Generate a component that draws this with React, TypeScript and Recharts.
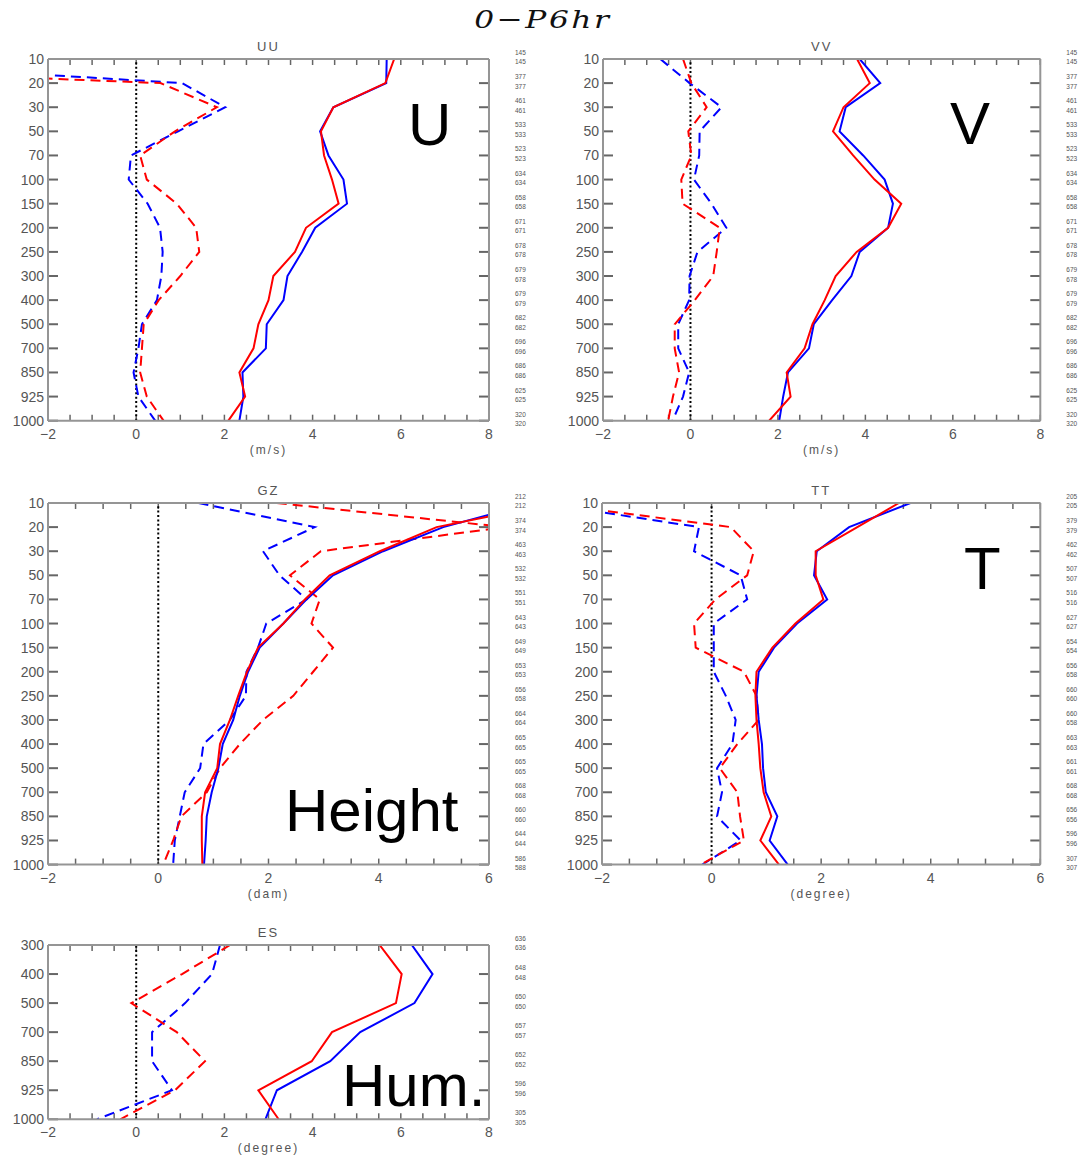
import React from 'react'
import { LineChart, Line, XAxis, YAxis, ReferenceLine } from 'recharts'

// pressure levels (hPa)
const LEVELS = [10, 20, 30, 50, 70, 100, 150, 200, 250, 300, 400, 500, 700, 850, 925, 1000]
const LEVELS_ES = [300, 400, 500, 700, 850, 925, 1000]

// UU (m/s)
const uuBlueSolid = [5.68, 5.67, 4.47, 4.17, 4.36, 4.7, 4.78, 4.06, 3.76, 3.43, 3.34, 2.96, 2.94, 2.41, 2.43, 2.34]
const uuRedSolid = [5.85, 5.65, 4.47, 4.19, 4.26, 4.44, 4.59, 3.85, 3.6, 3.11, 3.0, 2.77, 2.66, 2.34, 2.47, 2.09]
const uuBlueDash = [-8.0, 1.04, 2.02, 0.95, -0.12, -0.17, 0.26, 0.54, 0.6, 0.57, 0.47, 0.13, 0.05, -0.06, 0.05, 0.43]
const uuRedDash = [-13.0, 0.55, 1.83, 0.88, 0.09, 0.24, 0.92, 1.36, 1.43, 1.0, 0.51, 0.17, 0.13, 0.09, 0.24, 0.62]
const uuCountA = [145, 377, 461, 533, 523, 634, 658, 671, 678, 679, 679, 682, 696, 686, 625, 320]
const uuCountB = [145, 377, 461, 533, 523, 634, 658, 671, 678, 678, 679, 682, 696, 686, 625, 320]

// VV (m/s)
const vvBlueSolid = [3.87, 4.34, 3.55, 3.41, 3.95, 4.44, 4.63, 4.52, 3.87, 3.68, 3.24, 2.82, 2.71, 2.23, 2.12, 2.03]
const vvRedSolid = [3.81, 4.1, 3.5, 3.26, 3.72, 4.21, 4.82, 4.52, 3.8, 3.32, 3.07, 2.79, 2.61, 2.2, 2.29, 1.8]
const vvBlueDash = [-0.69, -0.02, 0.71, 0.21, 0.2, 0.08, 0.48, 0.82, 0.16, -0.02, -0.03, -0.28, -0.28, -0.03, -0.17, -0.41]
const vvRedDash = [-0.17, 0.02, 0.37, -0.05, 0.02, -0.21, -0.18, 0.67, 0.6, 0.52, 0.1, -0.36, -0.36, -0.26, -0.4, -0.51]
const vvCountA = [145, 377, 461, 533, 523, 634, 658, 671, 678, 679, 679, 682, 696, 686, 625, 320]
const vvCountB = [145, 377, 461, 533, 523, 634, 658, 671, 678, 678, 679, 682, 696, 686, 625, 320]

// GZ (dam)
const gzBlueSolid = [6.8, 5.17, 4.08, 3.17, 2.69, 2.27, 1.84, 1.63, 1.48, 1.36, 1.17, 1.09, 0.97, 0.88, 0.86, 0.83]
const gzRedSolid = [7.2, 5.05, 4.02, 3.11, 2.66, 2.27, 1.81, 1.61, 1.45, 1.3, 1.12, 1.07, 0.85, 0.79, 0.79, 0.8]
const gzBlueDash = [0.73, 2.84, 1.9, 2.2, 2.69, 1.96, 1.81, 1.6, 1.59, 1.3, 0.82, 0.76, 0.48, 0.39, 0.3, 0.27]
const gzRedDash = [2.15, 6.3, 2.95, 2.39, 2.93, 2.78, 3.17, 2.81, 2.45, 1.9, 1.48, 1.12, 0.88, 0.42, 0.27, 0.09]
const gzCountA = [212, 374, 463, 532, 551, 643, 649, 653, 656, 664, 665, 665, 668, 660, 644, 586]
const gzCountB = [212, 374, 463, 532, 551, 643, 649, 653, 658, 664, 665, 665, 668, 660, 644, 588]

// TT (degree)
const ttBlueSolid = [3.63, 2.51, 1.92, 1.87, 2.11, 1.56, 1.14, 0.86, 0.82, 0.86, 0.92, 0.94, 0.99, 1.2, 1.06, 1.39]
const ttRedSolid = [3.42, 2.66, 1.9, 1.9, 2.04, 1.53, 1.11, 0.82, 0.8, 0.82, 0.86, 0.89, 0.95, 1.09, 0.89, 1.23]
const ttBlueDash = [-3.1, -0.23, -0.32, 0.53, 0.65, 0.04, 0.04, 0.04, 0.26, 0.44, 0.38, 0.1, 0.19, 0.1, 0.53, -0.17]
const ttRedDash = [-3.05, 0.35, 0.77, 0.65, 0.07, -0.32, -0.29, 0.59, 0.82, 0.86, 0.47, 0.15, 0.47, 0.52, 0.59, -0.2]
const ttCountA = [205, 379, 462, 507, 516, 627, 654, 656, 660, 660, 663, 661, 668, 656, 596, 307]
const ttCountB = [205, 379, 462, 507, 516, 627, 654, 658, 660, 658, 663, 661, 668, 656, 596, 307]

// ES (degree)
const esBlueSolid = [6.25, 6.72, 6.31, 5.08, 4.4, 3.19, 2.93]
const esRedSolid = [5.52, 6.02, 5.89, 4.44, 3.98, 2.77, 3.23]
const esBlueDash = [1.9, 1.72, 1.11, 0.36, 0.36, 0.81, -0.89]
const esRedDash = [2.13, 1.04, -0.11, 0.92, 1.56, 0.88, -0.36]
const esCountA = [636, 648, 650, 657, 652, 596, 305]
const esCountB = [636, 648, 650, 657, 652, 596, 305]

const FONT = '"Liberation Sans", Arial, sans-serif'
const FRAME = '#959595'
const TICK = '#666'
const TEXT = '#555'
const BLUE = '#0000ff'
const RED = '#ff0000'

type PanelProps = {
  left: number
  top: number
  plotW: number
  plotH: number
  xMin: number
  xMax: number
  levels: number[]
  blueSolid: number[]
  redSolid: number[]
  blueDash: number[]
  redDash: number[]
  countA: number[]
  countB: number[]
  title: string
  unit: string
}

const LW = 50
const RW = 60
const TOP = 22
const BOT = 45
const R_GAP = 26
const Y_TICK_LEN = 10
const X_TICK_LEN = 6

function Panel(p: PanelProps) {
  const n = p.levels.length
  const rows = p.levels.map((lv, i) => ({
    idx: i,
    level: lv,
    bs: p.blueSolid[i],
    rs: p.redSolid[i],
    bd: p.blueDash[i],
    rd: p.redDash[i],
  }))
  const xTicks: number[] = []
  for (let v = p.xMin; v <= p.xMax + 1e-9; v += 0.5) xTicks.push(v)
  const yTicks = p.levels.map((_, i) => i)
  const fmtX = (v: number) => (v % 2 === 0 ? (v < 0 ? '\u2212' + Math.abs(v) : String(v)) : '')
  const axisLine = { stroke: FRAME, strokeWidth: 2 }

  // inward tick lengths expressed in data units of each axis
  const ux = (Y_TICK_LEN * (p.xMax - p.xMin)) / p.plotW
  const uy = (X_TICK_LEN * (n - 1)) / p.plotH

  // two sample counts per level, drawn just right of the frame
  const countTick = (t: any) => {
    const i = t.payload.value
    return (
      <g>
        <text x={t.x} y={t.y - 6.5} fontSize={6.5} fontFamily={FONT} fill="#555" dominantBaseline="central">
          {p.countA[i]}
        </text>
        <text x={t.x} y={t.y + 3} fontSize={6.5} fontFamily={FONT} fill="#555" dominantBaseline="central">
          {p.countB[i]}
        </text>
      </g>
    )
  }

  return (
    <div style={{ position: 'absolute', left: p.left - LW, top: p.top - TOP }}>
      <LineChart
        layout="vertical"
        width={LW + p.plotW + RW}
        height={TOP + p.plotH + BOT}
        data={rows}
        margin={{ top: TOP - 1, right: 0, bottom: 0, left: 0 }}
      >
        <XAxis
          type="number"
          domain={[p.xMin, p.xMax]}
          allowDataOverflow
          ticks={xTicks}
          interval={0}
          tickFormatter={fmtX}
          tickSize={0}
          tickMargin={8}
          tickLine={false}
          height={BOT}
          axisLine={axisLine}
          tick={{ fill: TEXT, fontSize: 14, fontFamily: FONT }}
          label={{ value: p.unit, position: 'insideBottom', offset: 12, fill: TEXT, fontSize: 12, fontFamily: FONT, letterSpacing: 2 }}
        />
        <XAxis
          xAxisId="top"
          orientation="top"
          type="number"
          domain={[p.xMin, p.xMax]}
          allowDataOverflow
          ticks={xTicks}
          interval={0}
          tickFormatter={() => ''}
          tickSize={0}
          tickLine={false}
          height={1}
          axisLine={axisLine}
          label={{ value: p.title, position: 'top', offset: 6.5, fill: TEXT, fontSize: 13, fontFamily: FONT, letterSpacing: 2 }}
        />
        <YAxis
          type="number"
          dataKey="idx"
          domain={[0, n - 1]}
          allowDataOverflow
          ticks={yTicks}
          interval={0}
          tickFormatter={(i: number) => String(p.levels[i])}
          width={LW}
          tickSize={0}
          tickMargin={4}
          tickLine={false}
          axisLine={axisLine}
          tick={{ fill: TEXT, fontSize: 14, fontFamily: FONT }}
        />
        <YAxis
          yAxisId="r"
          orientation="right"
          type="number"
          dataKey="idx"
          domain={[0, n - 1]}
          allowDataOverflow
          ticks={yTicks}
          interval={0}
          width={RW}
          tickSize={0}
          tickMargin={R_GAP}
          tickLine={false}
          axisLine={axisLine}
          tick={countTick}
        />

        {/* inward tick marks on all four sides of the frame */}
        {yTicks.map((i) => (
          <ReferenceLine key={'l' + i} segment={[{ x: p.xMin, y: i }, { x: p.xMin + ux, y: i }]} stroke={TICK} strokeWidth={2} ifOverflow="visible" />
        ))}
        {yTicks.map((i) => (
          <ReferenceLine key={'r' + i} segment={[{ x: p.xMax - ux, y: i }, { x: p.xMax, y: i }]} stroke={TICK} strokeWidth={2} ifOverflow="visible" />
        ))}
        {xTicks.map((v) => (
          <ReferenceLine key={'b' + v} segment={[{ x: v, y: n - 1 }, { x: v, y: n - 1 - uy }]} stroke={TICK} strokeWidth={1.5} ifOverflow="visible" />
        ))}
        {xTicks.map((v) => (
          <ReferenceLine key={'t' + v} segment={[{ x: v, y: 0 }, { x: v, y: uy }]} stroke={TICK} strokeWidth={1.5} ifOverflow="visible" />
        ))}

        <ReferenceLine x={0} stroke="#000" strokeWidth={2} strokeDasharray="2 2.4" />
        <Line dataKey="bd" stroke={BLUE} strokeWidth={2} strokeDasharray="10 6" dot={false} isAnimationActive={false} />
        <Line dataKey="rd" stroke={RED} strokeWidth={2} strokeDasharray="10 6" dot={false} isAnimationActive={false} />
        <Line dataKey="bs" stroke={BLUE} strokeWidth={2} dot={false} isAnimationActive={false} />
        <Line dataKey="rs" stroke={RED} strokeWidth={2} dot={false} isAnimationActive={false} />
      </LineChart>
    </div>
  )
}

const BIG_LABELS = [
  { text: 'U', left: 408, top: 95 },
  { text: 'V', left: 950, top: 94 },
  { text: 'Height', left: 285, top: 781 },
  { text: 'T', left: 964, top: 539 },
  { text: 'Hum.', left: 342, top: 1056 },
]

export default function App() {
  return (
    <div
      style={{
        position: 'absolute',
        left: 0,
        top: 0,
        width: 1085,
        height: 1156,
        overflow: 'hidden',
        background: '#fff',
      }}
    >
      <div style={{ position: 'absolute', left: 0, top: 7, width: 1085, textAlign: 'center', lineHeight: 1 }}>
        <span
          style={{
            display: 'inline-block',
            fontFamily: '"DejaVu Serif", serif',
            fontStyle: 'italic',
            fontSize: 25,
            letterSpacing: 2,
            color: '#111',
            transform: 'scaleX(1.25)',
          }}
        >
          0−P6hr
        </span>
      </div>

      <Panel left={48.3} top={59.3} plotW={441} plotH={361.7} xMin={-2} xMax={8} levels={LEVELS}
        blueSolid={uuBlueSolid} redSolid={uuRedSolid} blueDash={uuBlueDash} redDash={uuRedDash}
        countA={uuCountA} countB={uuCountB} title="UU" unit="(m/s)" />
      <Panel left={602.7} top={59.3} plotW={437.3} plotH={361.7} xMin={-2} xMax={8} levels={LEVELS}
        blueSolid={vvBlueSolid} redSolid={vvRedSolid} blueDash={vvBlueDash} redDash={vvRedDash}
        countA={vvCountA} countB={vvCountB} title="VV" unit="(m/s)" />
      <Panel left={48.3} top={502.7} plotW={441} plotH={361.6} xMin={-2} xMax={6} levels={LEVELS}
        blueSolid={gzBlueSolid} redSolid={gzRedSolid} blueDash={gzBlueDash} redDash={gzRedDash}
        countA={gzCountA} countB={gzCountB} title="GZ" unit="(dam)" />
      <Panel left={601.7} top={502.7} plotW={438.3} plotH={361.6} xMin={-2} xMax={6} levels={LEVELS}
        blueSolid={ttBlueSolid} redSolid={ttRedSolid} blueDash={ttBlueDash} redDash={ttRedDash}
        countA={ttCountA} countB={ttCountB} title="TT" unit="(degree)" />
      <Panel left={48.3} top={945} plotW={441} plotH={174.3} xMin={-2} xMax={8} levels={LEVELS_ES}
        blueSolid={esBlueSolid} redSolid={esRedSolid} blueDash={esBlueDash} redDash={esRedDash}
        countA={esCountA} countB={esCountB} title="ES" unit="(degree)" />

      {BIG_LABELS.map((b) => (
        <div
          key={b.text}
          style={{
            position: 'absolute',
            left: b.left,
            top: b.top,
            fontFamily: FONT,
            fontSize: 60,
            lineHeight: '60px',
            color: '#000',
            whiteSpace: 'nowrap',
          }}
        >
          {b.text}
        </div>
      ))}
    </div>
  )
}
